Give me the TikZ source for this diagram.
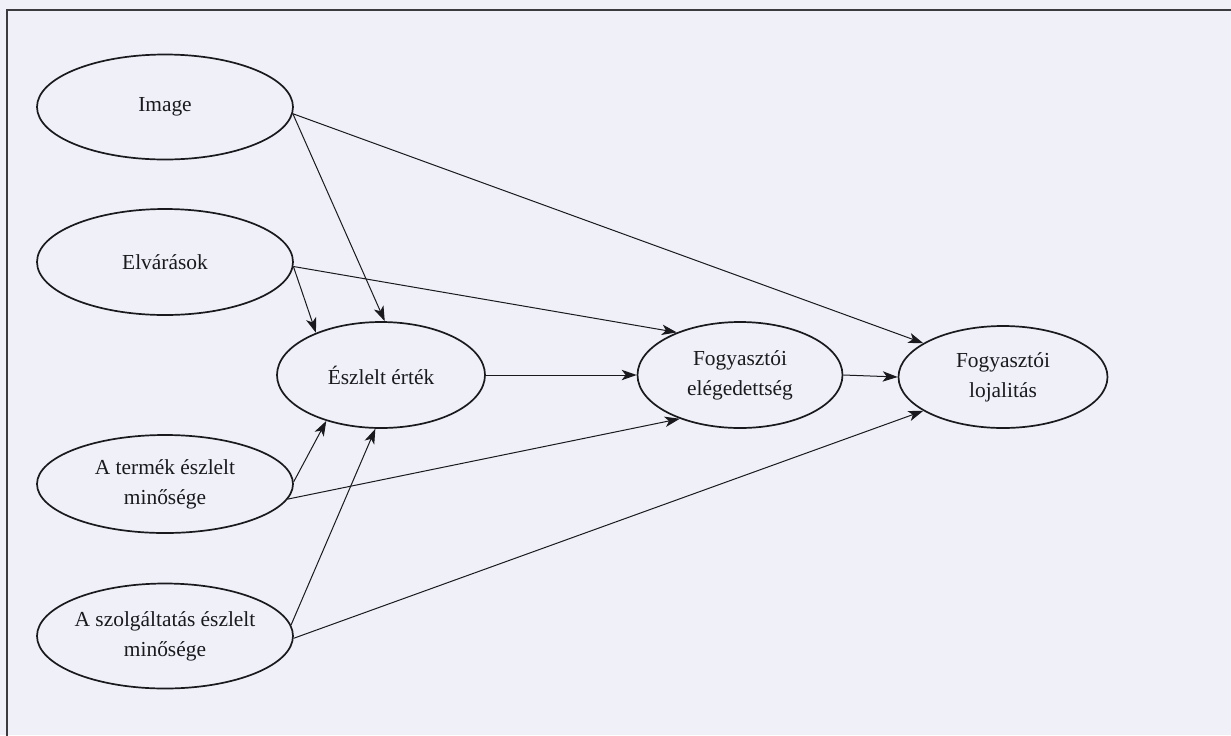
\documentclass[tikz,border=0pt]{standalone}
\usepackage{fontspec}
\setmainfont{Liberation Serif}
\usetikzlibrary{shapes.geometric,arrows.meta}
\definecolor{bgcol}{RGB}{239,240,248}
\definecolor{inkcol}{RGB}{25,25,30}
\tikzset{
  ell/.style={ellipse, draw=inkcol, line width=0.85pt, inner sep=0pt, align=center,
    font=\fontsize{10.7}{15}\selectfont, text=inkcol},
  conn/.style={draw=inkcol, line width=0.5pt,
    -{Stealth[length=7.5pt,width=5.2pt,inset=2pt]}},
  frameline/.style={draw=inkcol!85, line width=1.2pt}
}
\begin{document}
\begin{tikzpicture}[x=0.5pt,y=-0.5pt]
\useasboundingbox (0,0) rectangle (1231,735);
\fill[bgcol] (0,0) rectangle (1231,735);
\draw[frameline] (7,736) -- (7,10) -- (1232,10);

\node[ell, minimum width=128pt, minimum height=52.5pt] (img) at (165,107) {Image};
\node[ell, minimum width=128pt, minimum height=53pt] (elv) at (165,262) {Elvárások};
\node[ell, minimum width=128pt, minimum height=49pt] (ter) at (165,484) {A termék észlelt\\minősége};
\node[ell, minimum width=128pt, minimum height=52.5pt] (szo) at (165,636) {A szolgáltatás észlelt\\minősége};
\node[ell, minimum width=104pt, minimum height=53pt] (esz) at (381,375) {Észlelt érték};
\node[ell, minimum width=102.5pt, minimum height=53pt] (ele) at (740,375) {Fogyasztói\\elégedettség};
\node[ell, minimum width=104.5pt, minimum height=51pt] (loj) at (1003,377) {Fogyasztói\\lojalitás};

\draw[conn] (img.-3) -- (esz.86);
\draw[conn] (img.-3) -- (loj.157);
\draw[conn] (elv.-2) -- (esz.147);
\draw[conn] (elv.-2) -- (ele.146);
\draw[conn] (ter.1) -- (esz.-140);
\draw[conn] (ter.-7) -- (ele.-144);
\draw[conn] (szo.5) -- (esz.-96);
\draw[conn] (szo.-1) -- (loj.-157);
\draw[conn] (esz.0) -- (ele.180);
\draw[conn] (ele.0) -- (loj.180);
\end{tikzpicture}
\end{document}
